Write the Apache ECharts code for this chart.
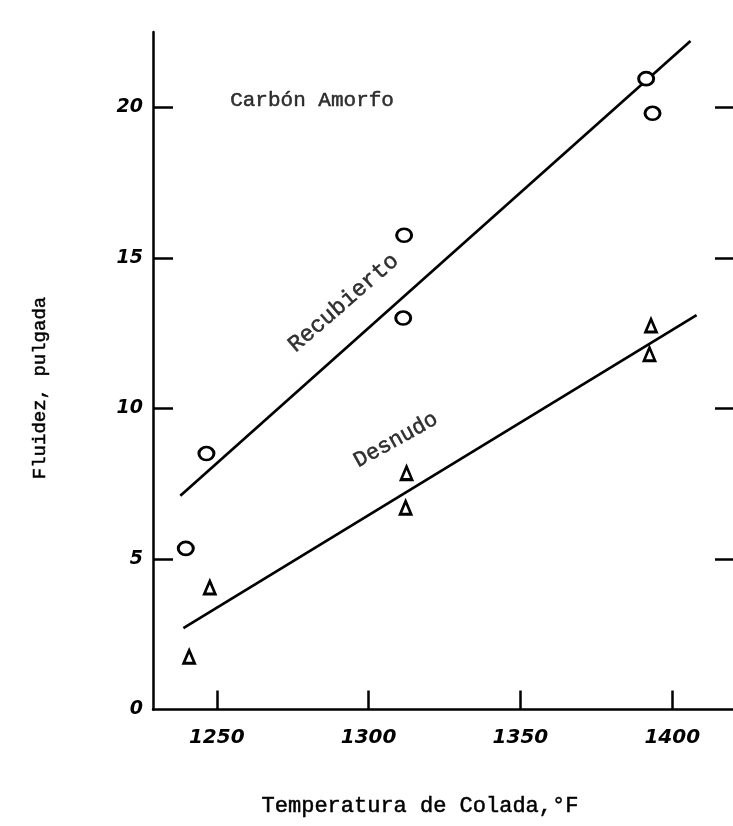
<!DOCTYPE html>
<html>
<head>
<meta charset="utf-8">
<script src="https://cdn.jsdelivr.net/npm/echarts@6/dist/echarts.min.js"></script>
<style>
  html, body { margin: 0; padding: 0; background: #fff; }
  #chart { width: 733px; height: 826px; }
</style>
</head>
<body>
<div id="chart"></div>
<script>
// Axis ticks
const tempTicks = [1250, 1300, 1350, 1400];          // casting temperature, °F
const fluidezTicks = [0, 5, 10, 15, 20];              // fluidity, inches
const fluidezMarks = [5, 10, 15, 20];

// Coated specimens (circles)
const recubiertoTemp = [1239.8, 1246.6, 1311.7, 1311.4, 1391.4, 1393.5];
const recubiertoFluidez = [5.35, 8.5, 15.75, 13.0, 20.95, 19.8];

// Bare specimens (triangles)
const desnudoTemp = [1240.9, 1247.7, 1312.5, 1312.2, 1393.0, 1392.5];
const desnudoFluidez = [1.75, 4.05, 7.85, 6.7, 12.75, 11.8];

// Fitted trend lines, end points
const recubiertoFitTemp = [1238, 1406];
const recubiertoFitFluidez = [7.1, 22.2];
const desnudoFitTemp = [1239, 1408];
const desnudoFitFluidez = [2.7, 13.1];

// Annotations anchored in data space
const noteTexts = ['Carbón Amorfo', 'Recubierto', 'Desnudo'];
const noteTemp = [1254.4, 1291.8, 1309.0];
const noteFluidez = [20.24, 13.5, 8.95];
const noteAngles = [0, 41, 29];
const noteSizes = [21, 23, 22];

const ink = '#000000';
const typeFont = '"Liberation Mono", "DejaVu Sans Mono", monospace';
const letterFont = '"DejaVu Sans", sans-serif';

const zip = (xs, ys) => xs.map((x, i) => [x, ys[i]]);
const plain = v => String(v);

const chart = echarts.init(document.getElementById('chart'), null, { renderer: 'canvas' });

chart.setOption({
  backgroundColor: '#ffffff',
  animation: false,
  grid: { left: 153, right: -7, top: 32, bottom: 116.5, containLabel: false },
  xAxis: {
    type: 'value',
    min: 1229,
    max: 1420,
    axisLine: { show: true, lineStyle: { color: ink, width: 2.5 } },
    axisTick: { show: true, inside: true, length: 19, customValues: tempTicks,
                lineStyle: { color: ink, width: 2.5 } },
    axisLabel: { show: true, customValues: tempTicks, margin: 18, formatter: plain,
                 color: ink, fontFamily: letterFont, fontWeight: 'bold',
                 fontStyle: 'italic', fontSize: 20 },
    splitLine: { show: false }
  },
  yAxis: [
    {
      type: 'value',
      position: 'left',
      min: 0,
      max: 22.5,
      axisLine: { show: true, onZero: false, lineStyle: { color: ink, width: 2.5 } },
      axisTick: { show: true, inside: true, length: 20, customValues: fluidezMarks,
                  lineStyle: { color: ink, width: 2.5 } },
      axisLabel: { show: true, customValues: fluidezTicks, margin: 10, formatter: plain,
                   color: ink, fontFamily: letterFont, fontWeight: 'bold',
                   fontStyle: 'italic', fontSize: 19 },
      splitLine: { show: false }
    },
    {
      type: 'value',
      position: 'right',
      min: 0,
      max: 22.5,
      axisLine: { show: false },
      axisTick: { show: true, inside: true, length: 18, customValues: fluidezMarks,
                  lineStyle: { color: ink, width: 2.5 } },
      axisLabel: { show: false },
      splitLine: { show: false }
    }
  ],
  graphic: [
    {
      type: 'text', x: 420, y: 806,
      style: { text: 'Temperatura de Colada,°F', fill: ink, stroke: ink, lineWidth: 0.5,
               font: '22px ' + typeFont, textAlign: 'center', textVerticalAlign: 'middle' }
    },
    {
      type: 'text', x: 40, y: 388, rotation: Math.PI / 2,
      style: { text: 'Fluidez, pulgada', fill: ink, stroke: ink, lineWidth: 0.5,
               font: '19px ' + typeFont, textAlign: 'center', textVerticalAlign: 'middle' }
    }
  ],
  series: [
    {
      name: 'Recubierto ajuste',
      type: 'line',
      data: zip(recubiertoFitTemp, recubiertoFitFluidez),
      symbol: 'none',
      lineStyle: { color: ink, width: 2.7 },
      z: 2
    },
    {
      name: 'Desnudo ajuste',
      type: 'line',
      data: zip(desnudoFitTemp, desnudoFitFluidez),
      symbol: 'none',
      lineStyle: { color: ink, width: 2.7 },
      z: 2
    },
    {
      name: 'Recubierto',
      type: 'scatter',
      data: zip(recubiertoTemp, recubiertoFluidez),
      symbol: 'circle',
      symbolSize: [15, 13],
      itemStyle: { color: '#ffffff', borderColor: ink, borderWidth: 2.8, opacity: 1 },
      z: 5
    },
    {
      name: 'Desnudo',
      type: 'scatter',
      data: zip(desnudoTemp, desnudoFluidez),
      symbol: 'triangle',
      symbolSize: [11, 13],
      itemStyle: { color: '#ffffff', borderColor: ink, borderWidth: 2.8, opacity: 1 },
      z: 5
    },
    {
      name: 'Notas',
      type: 'scatter',
      symbolSize: 0,
      silent: true,
      data: noteTexts.map((t, i) => ({
        name: t,
        value: [noteTemp[i], noteFluidez[i]],
        label: {
          show: true,
          formatter: t,
          position: i === 0 ? 'right' : 'inside',
          distance: 0,
          rotate: noteAngles[i],
          align: i === 0 ? 'left' : 'center',
          verticalAlign: 'middle',
          color: ink,
          fontFamily: typeFont,
          fontSize: noteSizes[i],
          textBorderColor: ink,
          textBorderWidth: 0.5
        }
      })),
      z: 6
    }
  ]
});
</script>
</body>
</html>
